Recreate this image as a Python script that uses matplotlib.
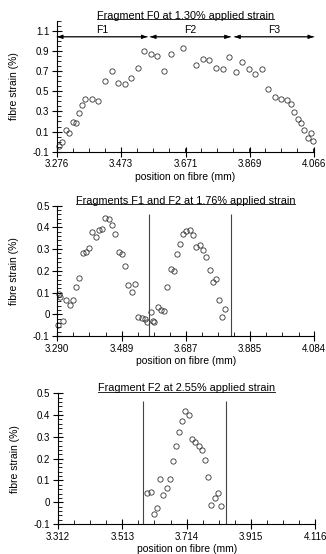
import matplotlib.pyplot as plt
from matplotlib.ticker import FixedLocator, AutoMinorLocator, MultipleLocator
from matplotlib.lines import Line2D

plt.rcParams['font.family'] = ['Liberation Sans', 'DejaVu Sans']
plt.rcParams['font.size'] = 7

# --- Fragment F0 at 1.30% applied strain
x_f0 = [3.2811, 3.2924, 3.3047, 3.3139, 3.3242, 3.3344, 3.3426, 3.3528, 3.3631, 3.3836,
        3.4031, 3.4246, 3.4451, 3.4645, 3.4850, 3.5045, 3.5240, 3.5434, 3.5639, 3.5844,
        3.6049, 3.6254, 3.6633, 3.7043, 3.7238, 3.7442, 3.7647, 3.7852, 3.8037, 3.8252,
        3.8457, 3.8651, 3.8856, 3.9061, 3.9246, 3.9451, 3.9645, 3.9840, 3.9942, 4.0045,
        4.0158, 4.0260, 4.0362, 4.0485, 4.0578, 4.0619]
y_f0 = [-0.044, 0.000, 0.115, 0.088, 0.190, 0.180, 0.280, 0.360, 0.426, 0.420,
        0.406, 0.604, 0.697, 0.578, 0.568, 0.627, 0.733, 0.898, 0.869, 0.845,
        0.703, 0.865, 0.925, 0.760, 0.819, 0.809, 0.726, 0.717, 0.842, 0.693,
        0.786, 0.720, 0.674, 0.720, 0.518, 0.445, 0.422, 0.412, 0.373, 0.297,
        0.224, 0.181, 0.112, 0.032, 0.082, 0.006]
frag_names = ["F1", "F2", "F3"]
frag_start = [3.276, 3.562, 3.821]
frag_end = [3.554, 3.810, 4.066]
ticks_f0 = [3.276, 3.473, 3.671, 3.869, 4.066]

# --- Fragments F1 and F2 at 1.76% applied strain
x_f12 = [3.2921, 3.2941, 3.2993, 3.3086, 3.3178, 3.3282, 3.3385, 3.3488, 3.3581, 3.3684,
         3.3787, 3.3880, 3.3983, 3.4086, 3.4179, 3.4282, 3.4385, 3.4488, 3.4591, 3.4694,
         3.4797, 3.4901, 3.5004, 3.5096, 3.5200, 3.5303, 3.5406, 3.5509, 3.5602, 3.5674,
         3.5798, 3.5870, 3.5901, 3.6004, 3.6107, 3.6210, 3.6303, 3.6406, 3.6499, 3.6602,
         3.6705, 3.6788, 3.6891, 3.6994, 3.7097, 3.7200, 3.7303, 3.7396, 3.7509, 3.7613,
         3.7705, 3.7809, 3.7901, 3.8004, 3.8097]
y_f12 = [-0.049, 0.093, 0.081, -0.029, 0.064, 0.043, 0.066, 0.127, 0.165, 0.282,
         0.285, 0.305, 0.379, 0.354, 0.390, 0.394, 0.442, 0.437, 0.411, 0.370,
         0.287, 0.276, 0.222, 0.135, 0.101, 0.138, -0.014, -0.017, -0.022, -0.034,
         0.011, -0.032, -0.034, 0.034, 0.020, 0.017, 0.127, 0.208, 0.199, 0.279,
         0.322, 0.371, 0.385, 0.388, 0.363, 0.310, 0.319, 0.297, 0.262, 0.202,
         0.147, 0.164, 0.067, -0.011, 0.023]
breaks_f12 = [3.5736, 3.8262]
ticks_f12 = [3.290, 3.489, 3.687, 3.885, 4.084]

# --- Fragment F2 at 2.55% applied strain
x_f2 = [3.5901, 3.6015, 3.6120, 3.6213, 3.6317, 3.6411, 3.6515, 3.6620, 3.6713, 3.6807,
        3.6911, 3.7005, 3.7099, 3.7203, 3.7307, 3.7411, 3.7515, 3.7619, 3.7724, 3.7817,
        3.7911, 3.8015, 3.8109, 3.8213]
y_f2 = [0.041, 0.045, -0.056, -0.028, 0.107, 0.032, 0.065, 0.107, 0.191, 0.257,
        0.324, 0.373, 0.417, 0.402, 0.290, 0.278, 0.257, 0.238, 0.195, 0.114,
        -0.013, 0.018, 0.041, -0.017]
breaks_f2 = [3.5786, 3.8369]
ticks_f2 = [3.312, 3.513, 3.714, 3.915, 4.116]

W, H = 326, 554
fig = plt.figure(figsize=(W / 100, H / 100), dpi=100)


def make_axes(left, right, top, bottom):
    return fig.add_axes([left / W, 1 - bottom / H, (right - left) / W, (bottom - top) / H])


def style(ax, xticks, ylim, ymajor, yminor, title):
    ax.set_xlim(xticks[0], xticks[-1])
    ax.set_ylim(*ylim)
    ax.spines['top'].set_visible(False)
    ax.spines['right'].set_visible(False)
    ax.spines['left'].set_linewidth(0.8)
    ax.spines['bottom'].set_linewidth(0.8)
    ax.xaxis.set_major_locator(FixedLocator(xticks))
    ax.set_xticklabels([f"{t:.3f}" for t in xticks])
    ax.xaxis.set_minor_locator(AutoMinorLocator(4))
    ax.yaxis.set_major_locator(FixedLocator(ymajor))
    ax.yaxis.set_minor_locator(MultipleLocator(yminor))
    ax.tick_params(which='major', direction='inout', length=7, width=0.8, labelsize=7, pad=2)
    ax.tick_params(which='minor', direction='in', length=3, width=0.6)
    ax.set_xlabel("position on fibre (mm)", fontsize=7.5, labelpad=2)
    ax.set_ylabel("fibre strain (%)", fontsize=7.5, labelpad=10)
    t = ax.set_title(title, fontsize=7.8, pad=0)
    return t


def scatter(ax, x, y):
    ax.plot(x, y, 'o', ms=3.8, mfc='none', mec='#333333', mew=0.6, clip_on=False)


# panel 1
ax1 = make_axes(57, 314, 20.7, 151.7)
scatter(ax1, x_f0, y_f0)
t1 = style(ax1, ticks_f0, (-0.1, 1.2), [-0.1, 0.1, 0.3, 0.5, 0.7, 0.9, 1.1], 0.05,
           "Fragment F0 at 1.30% applied strain")
ax1.set_yticklabels(["-0.1", "0.1", "0.3", "0.5", "0.7", "0.9", "1.1"])
for name, a, b in zip(frag_names, frag_start, frag_end):
    ax1.annotate("", xy=(a, 1.04), xytext=(b, 1.04),
                 arrowprops=dict(arrowstyle='-|>,head_length=0.5,head_width=0.18',
                                 color='black', lw=0.6, shrinkA=0, shrinkB=0))
    ax1.annotate("", xy=(b, 1.04), xytext=(a, 1.04),
                 arrowprops=dict(arrowstyle='-|>,head_length=0.5,head_width=0.18',
                                 color='black', lw=0.6, shrinkA=0, shrinkB=0))
    ax1.text((a + b) / 2, 1.06, name, ha='center', va='bottom', fontsize=7.5)

# panel 2
ax2 = make_axes(57.3, 314, 205.7, 336)
scatter(ax2, x_f12, y_f12)
t2 = style(ax2, ticks_f12, (-0.1, 0.5), [-0.1, 0, 0.1, 0.2, 0.3, 0.4, 0.5], 0.02,
           "Fragments F1 and F2 at 1.76% applied strain")
ax2.set_yticklabels(["-0.1", "0", "0.1", "0.2", "0.3", "0.4", "0.5"])
for b in breaks_f12:
    ax2.vlines(b, -0.1, 0.46, color='#444444', lw=0.8)

# panel 3
ax3 = make_axes(58, 315.3, 393.3, 524)
scatter(ax3, x_f2, y_f2)
t3 = style(ax3, ticks_f2, (-0.1, 0.5), [-0.1, 0, 0.1, 0.2, 0.3, 0.4, 0.5], 0.02,
           "Fragment F2 at 2.55% applied strain")
ax3.set_yticklabels(["-0.1", "0", "0.1", "0.2", "0.3", "0.4", "0.5"])
for b in breaks_f2:
    ax3.vlines(b, -0.1, 0.466, color='#444444', lw=0.8)

# underline the titles
fig.canvas.draw()
for t in (t1, t2, t3):
    bb = t.get_window_extent()
    y = (bb.y0 + 1.5) / (H)
    fig.add_artist(Line2D([bb.x0 / W, bb.x1 / W], [y, y], color='black', lw=0.6))

fig.savefig("out.png", dpi=100)
